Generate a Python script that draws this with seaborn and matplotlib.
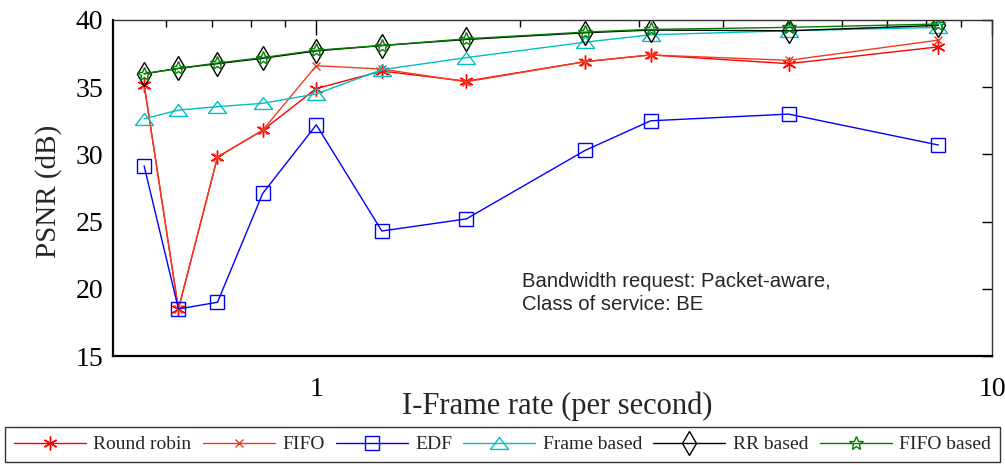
import matplotlib
matplotlib.use("Agg")
import matplotlib.pyplot as plt
import seaborn as sns
import numpy as np
from matplotlib.ticker import FixedLocator, FixedFormatter, NullFormatter

# ---- data ----
iframe_rate = [0.556, 0.625, 0.714, 0.833, 1.0, 1.25, 1.667, 2.5, 3.125, 5.0, 8.33]
round_robin = [35.2, 18.5, 29.8, 31.8, 34.9, 36.2, 35.45, 36.9, 37.4, 36.75, 38.0]
fifo        = [35.2, 18.5, 29.8, 31.8, 36.6, 36.35, 35.4, 36.9, 37.4, 37.0, 38.5]
edf         = [29.15, 18.5, 19.0, 27.1, 32.2, 24.3, 25.2, 30.3, 32.5, 33.0, 30.7]
frame_based = [32.65, 33.3, 33.55, 33.8, 34.5, 36.3, 37.2, 38.35, 38.9, 39.2, 39.45]
rr_based    = [36.0, 36.4, 36.75, 37.15, 37.7, 38.1, 38.55, 39.05, 39.25, 39.2, 39.6]
fifo_based  = [36.0, 36.4, 36.8, 37.2, 37.75, 38.1, 38.6, 39.1, 39.3, 39.45, 39.7]

series_names = ["Round robin", "FIFO", "EDF", "Frame based", "RR based", "FIFO based"]
x_major = [1, 10]
x_major_labels = ["1", "10"]
y_ticks = [15, 20, 25, 30, 35, 40]
annotation = "Bandwidth request: Packet-aware,\nClass of service: BE"

sns.set_style("white")
plt.rcParams["font.family"] = ["Liberation Serif", "DejaVu Serif"]

fig = plt.figure(figsize=(10.05, 4.65), dpi=100)
ax = fig.add_axes([0.1124, 0.2344, 0.8746, 0.7226])

flat_triangle = [(0, 0.66), (-1, -0.66), (1, -0.66), (0, 0.66)]

colors = ["#ff0000", "#f03c1e", "#0000ff", "#00c0c0", "#000000", "#007f00"]
markers = [(6, 2, 0), "x", "s", flat_triangle, "d", "*"]
msizes = [10, 6, 10.5, 13, 12.5, 10]

all_series = [round_robin, fifo, edf, frame_based, rr_based, fifo_based]

for name, vals, c, m, ms in zip(series_names, all_series, colors, markers, msizes):
    sns.lineplot(x=iframe_rate, y=vals, ax=ax, linewidth=1.0, label=name,
                 color=c, marker=m, markersize=ms, markeredgewidth=1.0,
                 markeredgecolor=c, markerfacecolor="none")

h, l = ax.get_legend_handles_labels()
if ax.get_legend() is not None:
    ax.get_legend().remove()

ax.set_xscale("log")
ax.set_xlim(0.5, 10)
ax.set_ylim(15, 40)
ax.xaxis.set_major_locator(FixedLocator(x_major))
ax.xaxis.set_major_formatter(FixedFormatter(x_major_labels))
ax.xaxis.set_minor_locator(FixedLocator([0.6, 0.7, 0.8, 0.9, 2, 3, 4, 5, 6, 7, 8, 9]))
ax.xaxis.set_minor_formatter(NullFormatter())
ax.set_yticks(y_ticks)

ax.tick_params(axis="both", which="both", direction="in", top=True, right=True,
               labelsize=20, colors="black")
ax.tick_params(axis="x", which="major", length=11, width=1.0, pad=15)
ax.tick_params(axis="x", which="minor", length=5, width=1.0)
ax.tick_params(axis="y", which="major", length=7, width=1.0, pad=7)

for side in ["left", "bottom"]:
    ax.spines[side].set_linewidth(1.6)
    ax.spines[side].set_color("black")
for side in ["top", "right"]:
    ax.spines[side].set_linewidth(1.0)
    ax.spines[side].set_color("#333333")

ax.set_xlabel("I-Frame rate (per second)", fontsize=22)
ax.set_ylabel("PSNR (dB)", fontsize=21)
ax.xaxis.set_label_coords(0.505, -0.107)
ax.yaxis.set_label_coords(-0.058, 0.491)

ax.text(0.465, 0.25, annotation, transform=ax.transAxes, va="top", ha="left",
        fontsize=14.6, family=["Liberation Sans", "DejaVu Sans"], linespacing=1.25)

leg = fig.legend(h, l, loc="lower left", bbox_to_anchor=(0.005, 0.006, 0.99, 0.08),
                 mode="expand", ncol=6, fontsize=14, frameon=True, fancybox=False,
                 edgecolor="black", handlelength=3.7, borderaxespad=0.0,
                 handletextpad=0.4, columnspacing=0.6, borderpad=0.45)
leg.get_frame().set_linewidth(1.0)

fig.savefig("out.png", dpi=100)
